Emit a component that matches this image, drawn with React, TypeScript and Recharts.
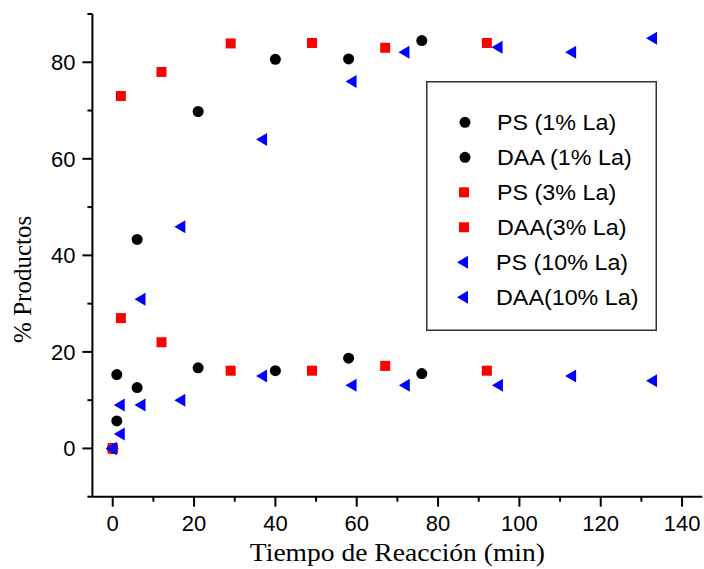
import React from 'react';
import { ScatterChart, Scatter, XAxis, YAxis, Legend } from 'recharts';

// ---- data ----
const psLa1X = [0, 1, 6, 21, 40, 58, 76];
const psLa1Y = [0, 5.7, 43.3, 69.8, 80.6, 80.7, 84.5];
const daaLa1X = [0, 1, 6, 21, 40, 58, 76];
const daaLa1Y = [0, 15.3, 12.6, 16.7, 16.1, 18.7, 15.5];
const psLa3X = [0, 2, 12, 29, 49, 67, 92];
const psLa3Y = [0, 73, 78, 83.9, 84, 83, 84];
const daaLa3X = [0, 2, 12, 29, 49, 67, 92];
const daaLa3Y = [0, 27, 22, 16.1, 16.1, 17.1, 16.1];
const psLa10X = [-0.4, 1.6, 6.7, 16.5, 36.6, 58.6, 71.6, 94.5, 112.6, 132.5];
const psLa10Y = [0, 3, 30.9, 45.9, 64, 76, 82.1, 83.1, 82.1, 85];
const daaLa10X = [-0.4, 1.6, 6.7, 16.5, 36.6, 58.6, 71.7, 94.6, 112.6, 132.5];
const daaLa10Y = [0, 9, 9, 10, 15, 13.1, 13.1, 13.1, 15, 14];

const seriesNames = ['PS (1% La)', 'DAA (1% La)', 'PS (3% La)', 'DAA(3% La)', 'PS (10% La)', 'DAA(10% La)'];
const xTicks = [0, 10, 20, 30, 40, 50, 60, 70, 80, 90, 100, 110, 120, 130, 140];
const yTicks = [-10, 0, 10, 20, 30, 40, 50, 60, 70, 80, 90];
const xAxisTitle = 'Tiempo de Reacción (min)';
const yAxisTitle = '% Productos';

const toPoints = (xs: number[], ys: number[]) => xs.map((x, i) => ({ x, y: ys[i] }));

const SANS = '"Liberation Sans", Arial, sans-serif';
const SERIF = '"Liberation Serif", "Times New Roman", serif';

const circleShape = (p: any) => <circle cx={p.cx} cy={p.cy} r={5.5} fill="#000" />;
const squareShape = (p: any) => <rect x={p.cx - 5} y={p.cy - 5} width={10} height={10} fill="#ff0000" />;
const triShape = (p: any) => (
  <polygon
    points={`${p.cx - 5.5},${p.cy} ${p.cx + 5.5},${p.cy - 6.5} ${p.cx + 5.5},${p.cy + 6.5}`}
    fill="#0000ff"
  />
);

const XTick = (props: any) => {
  const { x, y, payload } = props;
  const major = payload.value % 20 === 0;
  return (
    <g>
      <line x1={x} x2={x} y1={y} y2={y + (major ? 10 : 5)} stroke="#000" strokeWidth={2} />
      {major && (
        <text x={x} y={y + 34} textAnchor="middle" fontSize={22} fontFamily={SANS} fill="#000">
          {payload.value}
        </text>
      )}
    </g>
  );
};

const YTick = (props: any) => {
  const { x, y, payload } = props;
  const major = payload.value % 20 === 0;
  return (
    <g>
      <line x1={x} x2={x - (major ? 10 : 5)} y1={y} y2={y} stroke="#000" strokeWidth={2} />
      {major && (
        <text x={x - 17} y={y + 8} textAnchor="end" fontSize={22} fontFamily={SANS} fill="#000">
          {payload.value}
        </text>
      )}
    </g>
  );
};

const legendRows = [
  { name: seriesNames[0], kind: 'circle' },
  { name: seriesNames[1], kind: 'circle' },
  { name: seriesNames[2], kind: 'square' },
  { name: seriesNames[3], kind: 'square' },
  { name: seriesNames[4], kind: 'tri' },
  { name: seriesNames[5], kind: 'tri' },
];

const LegendBox = () => {
  const w = 231;
  const h = 250;
  return (
    <svg width={w} height={h} style={{ display: 'block' }}>
      <rect x={0.75} y={0.75} width={w - 1.5} height={h - 1.5} fill="#fff" stroke="#333" strokeWidth={1.5} />
      {legendRows.map((r, i) => {
        const cy = 41.3 + i * 35;
        let sym;
        if (r.kind === 'circle') sym = <circle cx={39} cy={cy} r={5.5} fill="#000" />;
        else if (r.kind === 'square') sym = <rect x={33} y={cy - 5} width={10} height={10} fill="#ff0000" />;
        else
          sym = (
            <polygon points={`${31},${cy} ${42},${cy - 6.5} ${42},${cy + 6.5}`} fill="#0000ff" />
          );
        const tx = i < 4 ? 71 : 70;
        return (
          <g key={i}>
            {sym}
            <text
              x={0}
              y={0}
              transform={`translate(${tx}, ${cy + 8}) scale(1.06, 1)`}
              fontSize={22}
              fontFamily={SANS}
              fill="#000"
            >
              {r.name}
            </text>
          </g>
        );
      })}
    </svg>
  );
};

export default function App() {
  return (
    <div style={{ position: 'absolute', left: 0, top: 0, width: 704, height: 569, background: '#fff' }}>
      <ScatterChart width={704} height={569} margin={{ top: 14, right: 1.6, bottom: 0, left: 0 }}>
        <XAxis
          type="number"
          dataKey="x"
          domain={[-5, 145]}
          ticks={xTicks}
          allowDataOverflow
          interval={0}
          height={72.3}
          tickSize={0}
          tickMargin={0}
          tickLine={false}
          axisLine={{ stroke: '#000', strokeWidth: 2 }}
          tick={<XTick />}
          label={{
            content: (p: any) => {
              const vb = p.viewBox;
              const cx = vb.x + vb.width / 2;
              const by = vb.y + 64;
              return (
                <text
                  x={0}
                  y={0}
                  transform={`translate(${cx}, ${by}) scale(1.06, 1)`}
                  textAnchor="middle"
                  fontSize={26}
                  fontFamily={SERIF}
                  fill="#000"
                >
                  {xAxisTitle}
                </text>
              );
            },
          }}
        />
        <YAxis
          type="number"
          dataKey="y"
          domain={[-10, 90]}
          ticks={yTicks}
          allowDataOverflow
          interval={0}
          width={92.4}
          tickSize={0}
          tickMargin={0}
          tickLine={false}
          axisLine={{ stroke: '#000', strokeWidth: 2 }}
          tick={<YTick />}
          label={{
            content: (p: any) => {
              const vb = p.viewBox;
              const cx = 31;
              const cy = vb.y + vb.height / 2 + 24;
              return (
                <text
                  x={cx}
                  y={cy}
                  transform={`rotate(-90, ${cx}, ${cy})`}
                  textAnchor="middle"
                  fontSize={25}
                  fontFamily={SERIF}
                  fill="#000"
                >
                  {yAxisTitle}
                </text>
              );
            },
          }}
        />
        <Legend
          layout="vertical"
          align="center"
          verticalAlign="middle"
          content={() => <LegendBox />}
          wrapperStyle={{ position: 'absolute', left: 426, top: 81, width: 231, height: 250 }}
        />
        <Scatter name={seriesNames[0]} data={toPoints(psLa1X, psLa1Y)} shape={circleShape} isAnimationActive={false} />
        <Scatter name={seriesNames[1]} data={toPoints(daaLa1X, daaLa1Y)} shape={circleShape} isAnimationActive={false} />
        <Scatter name={seriesNames[2]} data={toPoints(psLa3X, psLa3Y)} shape={squareShape} isAnimationActive={false} />
        <Scatter name={seriesNames[3]} data={toPoints(daaLa3X, daaLa3Y)} shape={squareShape} isAnimationActive={false} />
        <Scatter name={seriesNames[4]} data={toPoints(psLa10X, psLa10Y)} shape={triShape} isAnimationActive={false} />
        <Scatter name={seriesNames[5]} data={toPoints(daaLa10X, daaLa10Y)} shape={triShape} isAnimationActive={false} />
      </ScatterChart>
    </div>
  );
}
